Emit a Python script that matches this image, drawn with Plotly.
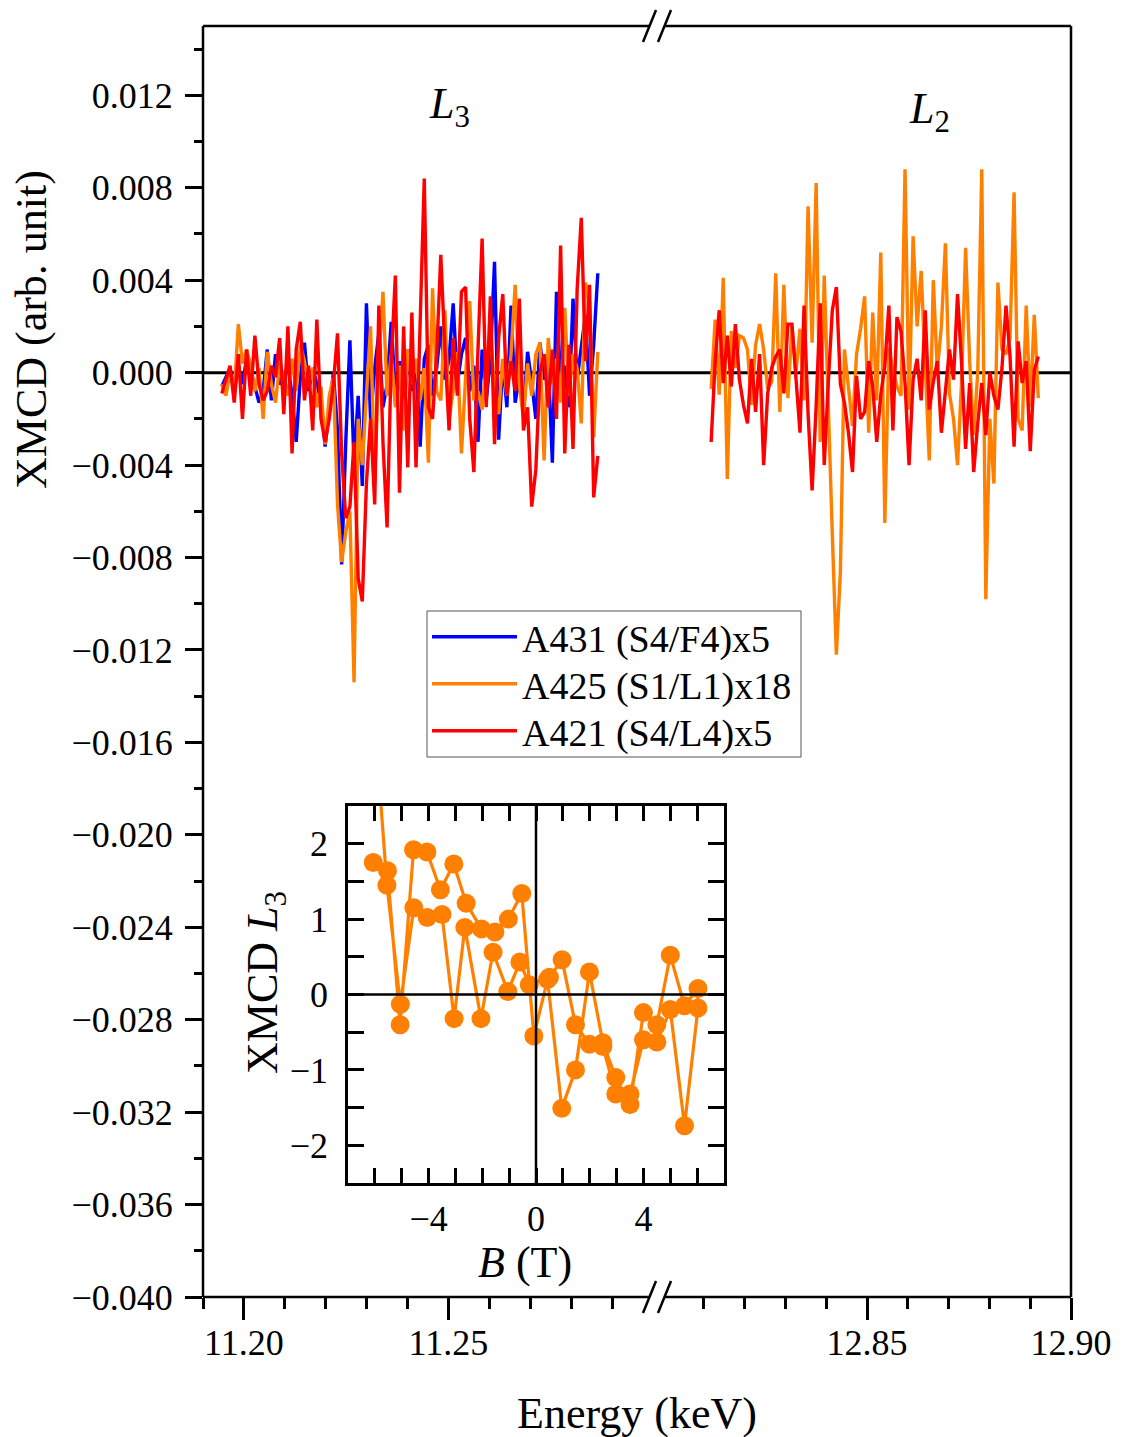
import plotly.graph_objects as go

# ---------------- data ----------------
# L3 edge scan (uniform energy grid, keV); XMCD values in units of 1e-3
L3_START, L3_STEP = 11.1946, 0.00101
blue_L3 = [-0.6, -0.2, 0.2, -0.8, 0.3, -0.5, 0.6, 0.1, -0.6, -1.3,
           -0.8, 1.0, -1.2, 0.8, -0.5, -0.3, 0.4, -1.0, -3.0, -0.2,
           1.3, -0.8, 0.2, -0.5, -1.2, -3.2, -1.5, 0.0, -2.5, -8.3,
           -3.0, 1.4, -4.0, -1.0, -4.9, 3.0, -2.0, 0.2, 1.7, -1.5,
           -0.5, 2.2, -1.0, 0.5, -2.0, 1.0, -0.8, 0.4, -3.2, 0.6,
           1.2, -1.0, 0.2, 2.0, -0.3, 0.6, 3.0, -0.5, 0.8, 1.5,
           -0.8, 0.3, -3.0, 1.0, -1.2, 0.6, 4.8, -2.9, 0.5, -1.5,
           2.9, -1.3, -0.2, -1.8, 0.9, -0.4, -2.0, 1.3, -0.3, 0.5,
           -3.9, 3.5, -0.5, 0.3, -1.5, 3.2, -0.3, 1.0, 2.5, -1.0,
           1.2, 4.3]
orange_L3 = [-0.5, -1.0, 0.0, -0.8, 2.1, 0.4, 1.0, 0.3, -0.8, 0.2,
             -2.0, 0.9, -0.5, -1.3, 0.4, -0.2, -1.0, 0.6, -0.8, 1.2,
             0.5, -0.6, 0.2, -1.5, -0.6, -3.1, -1.0, -0.2, -5.7, -8.2,
             -6.9, -6.0, -13.4, -2.0, -4.0, -1.0, 2.0, -4.7, 0.5, 3.5,
             -1.0, 0.8, -1.5, 0.3, -2.5, 1.0, -0.5, 0.6, -1.2, 0.2,
             -3.9, 3.65, -0.8, -1.2, 2.7, -2.0, -0.8, 0.9, -3.5, -0.2,
             3.1, -1.2, -0.8, -1.6, 0.5, 1.5, -0.5, -1.8, 0.6, -1.0,
             0.8, 3.8, -0.5, -2.0, 0.4, -1.0, 0.8, 1.3, -3.8, 1.5,
             -0.5, 0.6, -1.3, 2.8, -1.0, 0.8, 0.2, -2.2, 3.9, 3.0,
             -2.8, 0.9]
red_L3 = [-0.9, -0.3, 0.3, -1.3, 0.8, -2.0, 1.0, -1.0, 1.6, -0.5,
          -1.2, -0.8, 0.3, -0.2, 1.5, -1.8, 2.0, -3.5, 1.0, 2.2,
          -1.2, 0.3, -2.5, 2.3, -2.0, -3.0, -2.0, -0.5, 1.7, -3.5,
          -6.3, -5.8, -3.0, -8.9, -9.9, -4.8, -2.0, -5.7, 2.9, -3.0,
          -6.7, 0.5, 4.2, -5.2, 2.0, -4.1, 2.6, -4.1, 2.3, 8.4,
          -1.5, -2.0, 0.8, 5.1, 1.0, -2.5, 1.5, -1.0, 3.5, 3.7,
          -2.0, -4.3, 1.0, 5.8, -1.5, 3.3, -3.1, 1.5, 3.4, -1.0,
          0.5, -0.8, 3.2, -2.5, -1.5, -5.8, -4.2, 0.0, 0.8, -1.5,
          1.0, -2.0, 5.5, -3.5, 1.2, -3.3, 3.6, 6.7, 0.5, 3.8,
          -5.4, -3.6]

# L2 edge scan
L2_START, L2_STEP = 12.8118, 0.00099
orange_L2 = [-0.7, 2.3, -0.95, 4.1, -4.6, 1.8, 0.2, 1.6, 1.5, 1.0,
             -1.4, 1.2, 2.1, 1.0, -0.7, -0.4, 4.3, -1.7, 3.8, -1.1,
             2.0, 0.0, 1.9, -1.2, 7.2, 1.3, 8.2, -3.0, 4.2, -2.0,
             -7.0, -12.2, -8.6, 1.0, -0.5, -2.3, 0.8, 1.9, 3.3, -2.6,
             2.6, -1.2, 5.2, -6.5, 1.1, 0.1, -0.6, -1.0, 8.8, -1.6,
             5.9, 2.0, 4.4, 0.5, -3.8, 4.0, 0.1, 2.0, 5.6, -0.9,
             -2.0, -4.0, -0.4, 5.4, 0.5, -2.7, 0.0, 8.8, -9.8, -2.0,
             -4.8, 3.9, 1.0, 0.8, 1.5, 7.8, -2.0, -2.5, 2.9, -1.5,
             2.5, -1.1]
red_L2 = [-3.0, 0.5, 2.7, -0.45, 1.6, -0.6, 2.1, -0.3, -1.4, -2.2,
          0.6, -1.7, 0.8, -4.0, -0.9, 0.2, 0.7, 1.0, -0.9, 2.1,
          2.1, -0.45, -2.6, 2.9, -1.8, -5.1, -1.45, 3.0, -4.0, -0.45,
          2.7, 3.7, -0.5, -1.3, -2.6, -4.3, -0.15, -2.0, -1.7, 0.5,
          -0.6, -3.0, -0.95, 0.3, 2.9, -2.5, 2.4, 1.8, -0.45, -4.0,
          -0.3, 0.6, -1.2, 2.7, -1.6, -0.4, 0.5, -2.6, -0.8, 1.0,
          -0.3, 3.4, 0.4, -3.3, -0.45, -4.3, -2.2, -0.45, -2.7, 0.0,
          -1.0, -1.6, 0.2, 2.9, 0.7, -3.2, 1.35, -0.45, 0.5, -3.4,
          0.1, 0.7]
UNIT = 1e-3

# Inset: XMCD at L3 vs field, two field sweeps
B_sweep1 = [-6.0, -5.55, -5.05, -4.55, -4.05, -3.5, -3.05, -2.65, -2.05, -1.6,
            -1.05, -0.6, -0.25, 0.5, 0.97, 1.47, 1.99, 2.49, 2.97, 3.5,
            4.0, 4.5, 5.0, 5.53, 6.03]
X_sweep1 = [3.6, 1.45, -0.13, 1.15, 1.02, 1.06, -0.32, 0.89, -0.32, 0.56,
            0.04, 0.43, 0.13, 0.23, 0.46, -0.40, -0.66, -0.69, -1.32, -1.32,
            -0.60, -0.63, -0.20, -1.74, -0.18]
B_sweep2 = [6.03, 5.53, 5.0, 4.5, 4.0, 3.5, 2.97, 2.49, 1.99, 1.47,
            0.96, 0.43, -0.08, -0.53, -1.03, -1.53, -2.03, -2.6, -3.06, -3.56,
            -4.06, -4.56, -5.06, -5.53, -6.06]
X_sweep2 = [0.08, -0.15, 0.52, -0.40, -0.24, -1.46, -1.10, -0.64, 0.30, -1.00,
            -1.51, 0.20, -0.55, 1.34, 1.00, 0.83, 0.87, 1.21, 1.73, 1.39,
            1.89, 1.92, -0.40, 1.64, 1.75]

# tick labels
y_tickvals = [0.012, 0.008, 0.004, 0.0, -0.004, -0.008, -0.012, -0.016, -0.020,
              -0.024, -0.028, -0.032, -0.036, -0.040]
y_ticktext = ["0.012", "0.008", "0.004", "0.000", "\u22120.004", "\u22120.008",
              "\u22120.012", "\u22120.016", "\u22120.020", "\u22120.024",
              "\u22120.028", "\u22120.032", "\u22120.036", "\u22120.040"]
xL_tickvals = [11.20, 11.25]
xL_ticktext = ["11.20", "11.25"]
xL_minor = [11.19, 11.21, 11.22, 11.23, 11.24, 11.26, 11.27, 11.28, 11.29]
xR_tickvals = [12.85, 12.90]
xR_ticktext = ["12.85", "12.90"]
xR_minor = [12.81, 12.82, 12.83, 12.84, 12.86, 12.87, 12.88, 12.89]
in_x_tickvals = [-4, 0, 4]
in_x_ticktext = ["\u22124", "0", "4"]
in_y_tickvals = [-2, -1, 0, 1, 2]
in_y_ticktext = ["\u22122", "\u22121", "0", "1", "2"]

series_names = ["A431 (S4/F4)x5", "A425 (S1/L1)x18", "A421 (S4/L4)x5"]
colors = ["#0000FF", "#FF8000", "#FF0000"]

# ---------------- layout geometry ----------------
# the page body adds an 8 px margin; plot area spans x 203..1071, y 26..1297 on screen
OFF = 8
PL, PT, PR, PB = 203, 26, 1071, 1297
PW, PH = PR - PL, PB - PT
W, H = 1121 - 2 * OFF, 1437 - OFF
ML, MT = PL - OFF, PT - OFF
MR, MB = W - ML - PW, H - MT - PH


def px(x):
    return (x - PL) / PW


def py(y):
    return (PB - y) / PH


FONT = "Liberation Serif, Times New Roman, serif"

eL3 = [round(L3_START + L3_STEP * i, 5) for i in range(len(red_L3))]
eL2 = [round(L2_START + L2_STEP * i, 5) for i in range(len(red_L2))]

fig = go.Figure()

LW = 3.4
legend_ids = ["legend", "legend2", "legend3"]
l3_sets = [blue_L3, orange_L3, red_L3]
for name, col, vals, lg in zip(series_names, colors, l3_sets, legend_ids):
    fig.add_trace(go.Scatter(x=eL3, y=[v * UNIT for v in vals], mode="lines",
                             line=dict(color=col, width=LW), name=name,
                             legend=lg, xaxis="x", yaxis="y"))
# L2: only orange and red measured
fig.add_trace(go.Scatter(x=eL2, y=[v * UNIT for v in orange_L2], mode="lines",
                         line=dict(color=colors[1], width=LW), showlegend=False,
                         xaxis="x2", yaxis="y"))
fig.add_trace(go.Scatter(x=eL2, y=[v * UNIT for v in red_L2], mode="lines",
                         line=dict(color=colors[2], width=LW), showlegend=False,
                         xaxis="x2", yaxis="y"))

# inset
fig.add_trace(go.Scatter(x=B_sweep1 + B_sweep2, y=X_sweep1 + X_sweep2,
                         mode="lines+markers",
                         line=dict(color=colors[1], width=3.2),
                         marker=dict(color=colors[1], size=19),
                         showlegend=False, xaxis="x3", yaxis="y3"))

tickfont = dict(family=FONT, size=36, color="black")

# one legend per row so that the row spacing can follow the reference
LEG_ROWS = [637, 684, 731]
leg_common = dict(x=px(427), xanchor="left", yanchor="middle",
                  bgcolor="rgba(0,0,0,0)", borderwidth=0,
                  font=dict(family=FONT, size=38, color="black"),
                  itemwidth=85)

fig.update_layout(
    width=W, height=H,
    margin=dict(l=ML, r=MR, t=MT, b=MB, autoexpand=False),
    paper_bgcolor="white", plot_bgcolor="white",
    font=dict(family=FONT, color="black"),
    showlegend=True,
    legend=dict(y=py(LEG_ROWS[0]), **leg_common),
    legend2=dict(y=py(LEG_ROWS[1]), **leg_common),
    legend3=dict(y=py(LEG_ROWS[2]), **leg_common),
    xaxis=dict(domain=[0, px(653)], range=[11.19, 11.30], anchor="y",
               tickmode="array", tickvals=xL_tickvals, ticktext=xL_ticktext,
               ticks="outside", ticklen=22, tickwidth=2.5, tickcolor="black",
               minor=dict(tickmode="array", tickvals=xL_minor, ticks="outside",
                          ticklen=11, tickwidth=2.5, tickcolor="black"),
               showgrid=False, zeroline=False, showline=False, automargin=False,
               tickfont=tickfont, ticklabelstandoff=-8),
    xaxis2=dict(domain=[px(663), 1], range=[12.80, 12.90], anchor="y",
                tickmode="array", tickvals=xR_tickvals, ticktext=xR_ticktext,
                ticks="outside", ticklen=22, tickwidth=2.5, tickcolor="black",
                minor=dict(tickmode="array", tickvals=xR_minor, ticks="outside",
                           ticklen=11, tickwidth=2.5, tickcolor="black"),
                showgrid=False, zeroline=False, showline=False, automargin=False,
                tickfont=tickfont, ticklabelstandoff=-8),
    yaxis=dict(domain=[0, 1], range=[-0.040, 0.015], anchor="x",
               tickmode="array", tickvals=y_tickvals, ticktext=y_ticktext,
               ticks="outside", ticklen=17, tickwidth=2.5, tickcolor="black",
               minor=dict(tickmode="linear", tick0=0, dtick=0.002, ticks="outside",
                          ticklen=8, tickwidth=2.5, tickcolor="black"),
               showgrid=False, zeroline=False, showline=False, automargin=False,
               tickfont=tickfont, ticklabelstandoff=5),
    xaxis3=dict(domain=[px(348), px(724)], range=[-7, 7], anchor="y3",
                tickmode="array", tickvals=in_x_tickvals, ticktext=in_x_ticktext,
                ticks="inside", ticklen=15, tickwidth=2.5, tickcolor="black",
                minor=dict(tickmode="linear", tick0=0, dtick=1, ticks="inside",
                           ticklen=15, tickwidth=2.5, tickcolor="black"),
                showline=True, linewidth=2.5, linecolor="black", mirror="ticks",
                showgrid=False, zeroline=False, automargin=False, tickfont=tickfont,
                ticklabelstandoff=2),
    yaxis3=dict(domain=[py(1183), py(806)], range=[-2.5, 2.5], anchor="x3",
                tickmode="array", tickvals=in_y_tickvals, ticktext=in_y_ticktext,
                ticks="inside", ticklen=16, tickwidth=2.5, tickcolor="black",
                minor=dict(tickmode="linear", tick0=0, dtick=0.5, ticks="inside",
                           ticklen=16, tickwidth=2.5, tickcolor="black"),
                showline=True, linewidth=2.5, linecolor="black", mirror="ticks",
                showgrid=False, zeroline=False, automargin=False, tickfont=tickfont,
                ticklabelstandoff=10),
)

blk = dict(color="black", width=2.5)
shapes = []
# legend box
shapes.append(dict(type="rect", xref="paper", yref="paper",
                   x0=px(427), x1=px(801), y0=py(757), y1=py(611),
                   line=dict(color="#555555", width=1), fillcolor="white",
                   layer="below"))
# frame
shapes.append(dict(type="line", xref="paper", yref="paper", x0=0, x1=0, y0=0, y1=1, line=blk))
shapes.append(dict(type="line", xref="paper", yref="paper", x0=1, x1=1, y0=0, y1=1, line=blk))
for yy in (0, 1):
    shapes.append(dict(type="line", xref="paper", yref="paper", x0=0, x1=px(650),
                       y0=yy, y1=yy, line=blk))
    shapes.append(dict(type="line", xref="paper", yref="paper", x0=px(665), x1=1,
                       y0=yy, y1=yy, line=blk))
# axis-break marks
for yc in (PT, PB):
    for x0 in (643, 658):
        shapes.append(dict(type="line", xref="paper", yref="paper",
                           x0=px(x0), y0=py(yc + 16), x1=px(x0 + 13), y1=py(yc - 16),
                           line=blk))
# zero line across main plot
shapes.append(dict(type="line", xref="paper", yref="y", x0=0, x1=1, y0=0, y1=0,
                   line=dict(color="black", width=3), layer="below"))
# inset cross-hair
shapes.append(dict(type="line", xref="x3", yref="y3 domain", x0=0, x1=0, y0=0, y1=1,
                   line=dict(color="black", width=2.5)))
shapes.append(dict(type="line", xref="x3 domain", yref="y3", x0=0, x1=1, y0=0, y1=0,
                   line=dict(color="black", width=2.5)))
fig.update_layout(shapes=shapes)

ann_font = dict(family=FONT, size=44, color="black")
common = dict(xref="paper", yref="paper", showarrow=False,
              xanchor="center", yanchor="middle")
fig.add_annotation(text="<i>L</i><sub>3</sub>", x=px(449), y=py(107), font=ann_font, **common)
fig.add_annotation(text="<i>L</i><sub>2</sub>", x=px(929), y=py(112), font=ann_font, **common)
fig.add_annotation(text="Energy (keV)", x=px(637), y=py(1413), font=ann_font, **common)
fig.add_annotation(text="XMCD (arb. unit)", x=px(32), y=py(330), textangle=-90,
                   font=ann_font, **common)
fig.add_annotation(text="<i>B</i> (T)", x=px(525), y=py(1262), font=ann_font, **common)
fig.add_annotation(text="XMCD <i>L</i><sub>3</sub>", x=px(265), y=py(983), textangle=-90,
                   font=ann_font, **common)

fig.write_html("out.html")
